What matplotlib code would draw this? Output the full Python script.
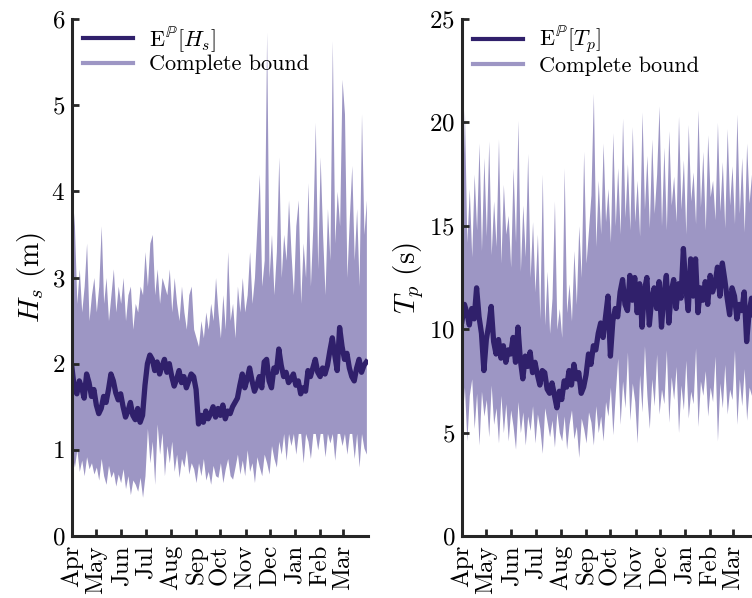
import numpy as np
import matplotlib.pyplot as plt
from matplotlib.lines import Line2D

plt.rcParams['font.family'] = 'serif'
plt.rcParams['font.serif'] = ['cmr10']
plt.rcParams['mathtext.fontset'] = 'cm'
plt.rcParams['axes.unicode_minus'] = False
plt.rcParams['axes.formatter.use_mathtext'] = True

# sample days (every 3 days from 1 April)
days = np.arange(0, 365, 3)

months = ['Apr', 'May', 'Jun', 'Jul', 'Aug', 'Sep', 'Oct', 'Nov', 'Dec', 'Jan', 'Feb', 'Mar']
month_days = [0, 30, 61, 91, 122, 153, 183, 214, 244, 275, 306, 334]

hs_mean = [1.95, 1.70, 1.65, 1.80, 1.72, 1.60, 1.88, 1.78, 1.62, 1.70,
           1.52, 1.42, 1.48, 1.62, 1.55, 1.70, 1.88, 1.80, 1.66, 1.58,
           1.65, 1.50, 1.38, 1.45, 1.55, 1.40, 1.35, 1.48, 1.32, 1.40,
           1.75, 2.00, 2.10, 2.05, 1.92, 2.02, 1.88, 1.97, 2.05, 1.90,
           2.00, 1.85, 1.74, 1.82, 1.92, 1.78, 1.85, 1.72, 1.80, 1.88,
           1.85, 1.70, 1.30, 1.40, 1.32, 1.45, 1.36, 1.42, 1.50, 1.38,
           1.48, 1.40, 1.52, 1.36, 1.45, 1.42, 1.50, 1.55, 1.60, 1.75,
           1.88, 1.72, 1.82, 1.95, 1.80, 1.68, 1.75, 1.85, 1.72, 2.02,
           2.05, 1.80, 1.72, 1.95, 1.90, 2.17, 1.98, 1.85, 1.90, 1.78,
           1.82, 1.88, 1.75, 1.80, 1.65, 1.72, 1.68, 1.92, 1.85, 1.95,
           2.05, 1.90, 1.85, 1.95, 1.88, 1.98, 2.15, 2.30, 2.10, 1.92,
           2.42, 2.20, 2.05, 2.12, 1.95, 1.85, 1.80, 1.95, 2.05, 1.90, 1.98, 2.02]

hs_upper = [4.0, 3.6, 2.7, 3.1, 2.6, 2.9, 3.4, 2.5, 2.8, 3.0,
            2.6, 2.9, 3.6, 2.7, 3.0, 2.5, 2.8, 3.1, 2.6, 2.9,
            2.7, 3.0, 2.5, 2.8, 2.9, 2.4, 2.7, 2.6, 2.9, 2.8,
            3.3, 2.9, 3.4, 3.5, 2.8, 3.1, 2.7, 3.0, 2.9, 2.8,
            3.1, 2.6, 3.0, 2.7, 2.5, 2.9, 2.6, 2.4, 2.8, 2.9,
            2.4, 2.3, 2.2, 2.5, 2.3, 2.6, 2.4, 2.7, 2.5, 3.0,
            2.6, 2.3, 2.8, 2.4, 3.3, 2.5, 2.7, 2.3, 2.9, 2.6,
            3.0, 2.6, 2.8, 3.3, 2.7, 3.0, 3.6, 4.2, 2.9, 3.2,
            5.85, 3.0, 3.5, 2.8, 3.3, 4.4, 3.0, 3.5, 3.2, 3.9,
            3.3, 2.8, 3.6, 3.9, 2.7, 3.4, 3.0, 4.1, 2.9, 3.6,
            4.8, 3.1, 4.4, 3.5, 2.8, 3.8, 3.2, 5.75, 3.4, 4.0,
            3.6, 5.3, 4.9, 3.0, 3.7, 4.3, 3.2, 3.8, 2.9, 4.9, 3.5, 3.9]

hs_lower = [0.95, 0.80, 1.00, 0.75, 0.88, 0.70, 0.92, 0.78, 0.85, 0.72,
            0.80, 0.65, 0.90, 0.70, 0.60, 0.82, 0.68, 0.75, 0.58, 0.72,
            0.62, 0.78, 0.55, 0.70, 0.48, 0.65, 0.60, 0.52, 0.68, 0.45,
            0.70, 1.25, 0.85, 1.10, 0.60, 1.30, 0.95, 1.20, 0.70, 1.05,
            0.85, 1.10, 0.75, 0.95, 0.68, 0.90, 0.80, 1.00, 0.72, 0.85,
            0.78, 0.62, 0.85, 0.70, 0.90, 0.65, 0.75, 0.60, 0.82, 0.70,
            0.68, 0.85, 0.62, 0.78, 0.90, 0.70, 0.66, 0.80, 0.95, 0.72,
            0.88, 0.70, 1.00, 0.75, 0.85, 0.62, 0.92, 0.80, 0.70, 0.95,
            0.85, 0.72, 1.05, 0.90, 0.80, 1.10, 0.95, 1.19, 0.88, 1.19,
            1.05, 1.19, 0.95, 1.19, 1.19, 0.85, 1.19, 1.10, 0.90, 1.19,
            1.19, 1.00, 1.19, 1.19, 0.92, 1.19, 1.08, 1.19, 0.88, 1.19,
            1.19, 1.05, 1.19, 0.95, 1.19, 1.19, 0.90, 1.19, 0.80, 1.19, 1.02, 0.95]

tp_mean = [10.4, 11.2, 10.8, 10.2, 11.0, 10.5, 12.0, 10.6, 9.8, 8.0,
           9.5, 10.2, 11.1, 9.4, 8.8, 9.5, 8.6, 9.2, 8.4, 9.0,
           8.8, 9.6, 8.4, 10.1, 8.5, 7.6, 8.7, 8.2, 8.9, 7.9,
           8.4, 7.8, 7.3, 8.0, 7.9, 7.1, 6.9, 7.4, 6.8, 6.2,
           7.0, 6.6, 7.5, 7.2, 8.0, 7.3, 8.3, 7.6, 7.9, 6.9,
           7.2, 7.8, 8.8, 8.3, 9.2, 9.0, 9.8, 10.3, 9.6, 10.6,
           11.6, 8.7, 10.4, 11.0, 10.6, 11.8, 12.4, 11.2, 10.9, 12.6,
           11.4, 12.5, 10.8, 12.2, 10.1, 11.9, 12.5, 10.2, 11.5, 12.0,
           11.0, 12.3, 10.1, 11.7, 12.6, 10.3, 11.8, 12.4, 11.0, 12.2,
           11.5, 13.9, 12.0, 10.9, 13.4, 11.6, 13.4, 10.8, 12.0, 11.4,
           12.3, 11.2, 12.6, 11.8, 12.2, 13.0, 11.6, 13.2, 12.4, 11.5,
           10.7, 12.0, 11.6, 10.5, 11.2, 10.9, 11.8, 9.4, 10.8, 11.5, 10.2, 11.0]

tp_upper = [15.0, 20.6, 14.2, 16.8, 13.5, 17.5, 14.8, 19.0, 13.8, 18.3,
            14.5, 19.1, 13.6, 16.2, 14.0, 19.2, 13.2, 17.0, 14.6, 15.5,
            13.0, 17.8, 14.2, 20.1, 12.8, 16.0, 13.5, 18.5, 12.5, 15.2,
            11.8, 14.6, 10.5, 17.5, 10.2, 12.8, 9.8, 11.5, 16.2, 10.0,
            11.0, 9.6, 17.8, 10.8, 12.2, 10.4, 13.8, 11.2, 15.0, 12.5,
            18.6, 13.2, 14.8, 16.5, 21.4, 14.0, 17.2, 14.6, 19.0, 15.2,
            16.8, 14.2, 19.5, 15.0, 17.8, 14.6, 20.2, 15.4, 18.0, 14.8,
            19.8, 15.2, 17.2, 14.5, 20.5, 15.8, 18.4, 14.9, 19.2, 15.6,
            17.5, 20.8, 15.0, 18.8, 14.8, 19.6, 16.0, 17.4, 15.2, 20.3,
            15.8, 18.2, 14.6, 19.9, 16.2, 17.6, 15.1, 20.6, 15.9, 18.6,
            14.8, 19.4, 16.4, 17.2, 15.3, 20.0, 15.7, 18.1, 14.9, 19.7,
            16.0, 17.9, 15.1, 20.4, 15.6, 18.3, 14.7, 19.0, 16.1, 17.5, 15.4, 18.8]

tp_lower = [5.5, 7.2, 4.6, 6.8, 7.6, 5.2, 6.9, 4.4, 7.0, 5.8,
            6.6, 4.8, 7.3, 5.4, 6.2, 4.5, 6.8, 5.0, 6.4, 4.6,
            6.1, 5.3, 4.2, 6.5, 5.0, 6.0, 4.4, 5.8, 5.1, 6.3,
            4.5, 5.9, 5.2, 4.0, 6.2, 5.5, 4.8, 5.6, 4.3, 6.0,
            5.0, 4.6, 5.8, 4.2, 5.4, 6.1, 4.7, 5.3, 3.8, 5.7,
            5.2, 4.5, 6.0, 5.5, 4.4, 6.3, 5.0, 5.8, 4.6, 6.5,
            5.8, 7.2, 4.9, 6.9, 8.6, 5.4, 7.5, 6.2, 8.9, 5.6,
            7.4, 6.5, 4.5, 7.8, 6.0, 9.2, 6.8, 5.2, 7.6, 6.3,
            8.8, 5.9, 7.1, 6.4, 9.0, 5.5, 7.7, 6.6, 8.2, 5.0,
            7.3, 6.1, 8.5, 5.7, 7.0, 6.4, 9.1, 5.3, 7.5, 6.8,
            8.0, 5.8, 7.2, 6.5, 8.7, 4.6, 7.4, 6.2, 8.3, 5.9,
            7.1, 6.6, 9.0, 5.4, 7.6, 6.3, 8.1, 5.6, 7.2, 6.8, 8.4, 5.9]

dark = '#30206b'
light = '#9d96c4'
spine_col = '#262626'

fig = plt.figure(figsize=(7.52, 5.98), dpi=100)
ax1 = fig.add_axes([72 / 752, 62 / 598, 296 / 752, 517 / 598])
ax2 = fig.add_axes([462 / 752, 62 / 598, 296 / 752, 517 / 598])


def draw(ax, mean, lower, upper, ymax, yticks, ylabel, mlabel):
    ax.fill_between(days, lower, upper, color=light, lw=0)
    ax.plot(days, mean, color=dark, lw=3.8, solid_joinstyle='round')
    ax.set_xlim(0, 365)
    ax.set_ylim(0, ymax)
    ax.set_yticks(yticks)
    ax.set_xticks(month_days)
    ax.set_xticklabels(months, rotation=90)
    for s in ['top', 'right']:
        ax.spines[s].set_visible(False)
    for s in ['left', 'bottom']:
        ax.spines[s].set_linewidth(2.2)
        ax.spines[s].set_color(spine_col)
    ax.tick_params(direction='in', length=5, width=2, color=spine_col,
                   labelsize=18)
    ax.tick_params(axis='y', pad=5)
    ax.tick_params(axis='x', pad=6.5)
    ax.set_ylabel(ylabel, fontsize=21, labelpad=2)
    handles = [Line2D([], [], color=dark, lw=3),
               Line2D([], [], color=light, lw=3)]
    ax.legend(handles, [mlabel, 'Complete bound'], loc='upper left',
              bbox_to_anchor=(0.025, 0.995),
              frameon=False, fontsize=16, handlelength=2.25,
              handletextpad=0.75, labelspacing=0.0, borderaxespad=0.0,
              borderpad=0.15)


draw(ax1, hs_mean, hs_lower, hs_upper, 6, range(0, 7),
     r'$H_s$ (m)', r'E$^{\mathbb{P}}[H_s]$')
draw(ax2, tp_mean, tp_lower, tp_upper, 25, range(0, 26, 5),
     r'$T_p$ (s)', r'E$^{\mathbb{P}}[T_p]$')

fig.savefig('out.png', dpi=100)
